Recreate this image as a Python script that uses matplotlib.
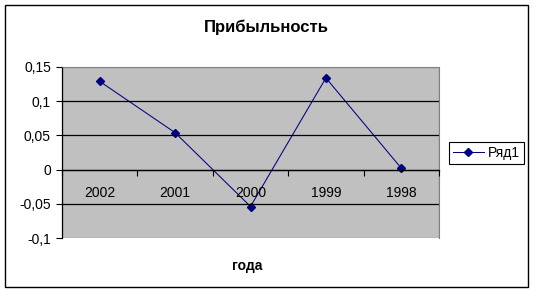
import matplotlib.pyplot as plt
from matplotlib.patches import Rectangle
import numpy as np

# data
years = ["2002", "2001", "2000", "1999", "1998"]
profit = [0.129, 0.054, -0.054, 0.134, 0.002]
y_ticks = [-0.1, -0.05, 0, 0.05, 0.1, 0.15]
y_tick_labels = ["-0,1", "-0,05", "0", "0,05", "0,1", "0,15"]

plt.rcParams['font.family'] = ['Liberation Sans', 'DejaVu Sans']

W, H = 535, 295
fig = plt.figure(figsize=(W / 100, H / 100), dpi=100)

# outer chart border
fig.patches.append(Rectangle((5 / W, 8 / H), 523 / W, 282 / H, transform=fig.transFigure,
                             facecolor='none', edgecolor='black', linewidth=1.0))

ax = fig.add_axes([62 / W, 57 / H, 377 / W, 171 / H])
ax.set_facecolor('#C0C0C0')

x = np.arange(len(years))
ax.plot(x, profit, color='#000080', linewidth=0.75, marker='D', markersize=4.5,
        markerfacecolor='#000080', markeredgecolor='#000080', label='Ряд1')

ax.set_xlim(-0.5, len(years) - 0.5)
ax.set_ylim(-0.1, 0.15)

# y axis
ax.set_yticks(y_ticks)
ax.set_yticklabels(y_tick_labels)
ax.tick_params(axis='y', direction='out', length=4, width=0.8, pad=4, labelsize=10)
ax.yaxis.grid(True, color='black', linewidth=0.9)
ax.set_axisbelow(False)
gls = ax.yaxis.get_gridlines()
gls[0].set_visible(False)
gls[-1].set_visible(False)

# x axis crossing at zero
ax.spines['bottom'].set_position(('data', 0))
ax.spines['bottom'].set_color('black')
ax.spines['bottom'].set_linewidth(0.9)
ax.spines['left'].set_color('black')
ax.spines['left'].set_linewidth(0.9)
ax.spines['top'].set_color('#808080')
ax.spines['right'].set_color('#808080')
ax.add_patch(Rectangle((0, 0), 1, 1, transform=ax.transAxes, facecolor='none',
                       edgecolor='#808080', linewidth=0.9, zorder=0.5))

ax.set_xticks(x)
ax.set_xticklabels(years)
ax.tick_params(axis='x', which='major', length=0, pad=12, labelsize=10)
ax.set_xticks(np.arange(len(years) + 1) - 0.5, minor=True)
ax.tick_params(axis='x', which='minor', direction='out', length=4, width=0.8)

ax.set_xlabel('года', fontsize=10, fontweight='bold')
ax.xaxis.set_label_coords(0.49, -0.164)
ax.xaxis.label.set_va('center')

fig.text(266 / W, 1 - 27 / H, 'Прибыльность', ha='center', va='center',
         fontsize=12, fontweight='bold')

leg = ax.legend(loc='center left', bbox_to_anchor=(449 / W, 1 - 153 / H),
                bbox_transform=fig.transFigure, fancybox=False, framealpha=1,
                edgecolor='black', fontsize=10, handlelength=2.2, handletextpad=0.3,
                borderpad=0.3, borderaxespad=0)
leg.get_frame().set_linewidth(0.8)

fig.savefig('out.png', dpi=100)
